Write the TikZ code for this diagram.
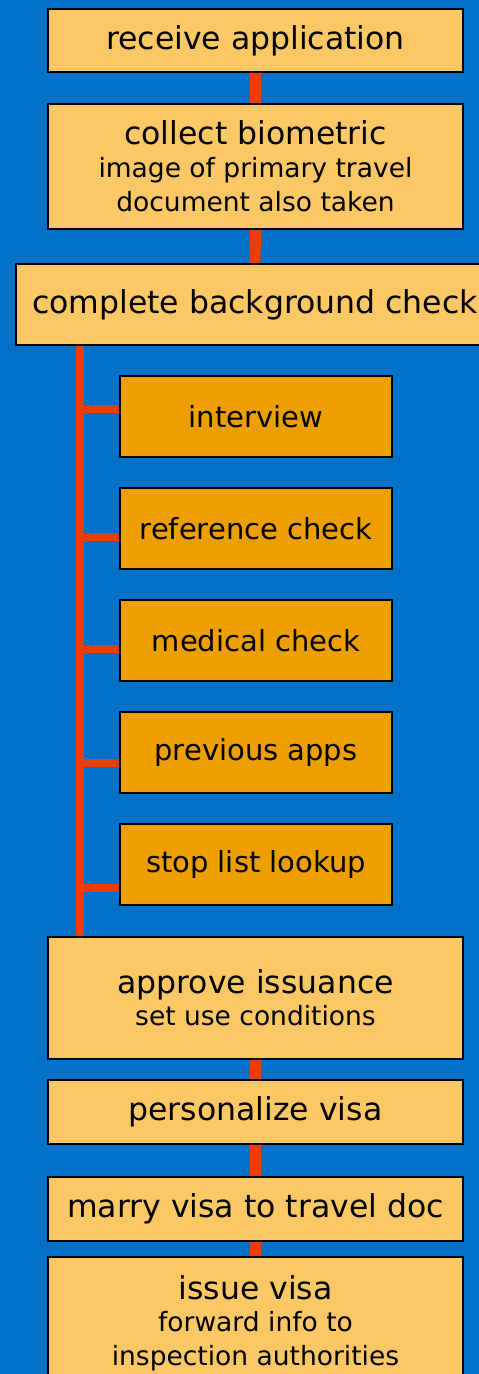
\documentclass[tikz,border=0pt]{standalone}
\usepackage{fontspec}
\setmainfont{DejaVu Sans}
\usetikzlibrary{calc}
\definecolor{bgblue}{HTML}{0070C8}
\definecolor{boxlight}{HTML}{FCC865}
\definecolor{boxdark}{HTML}{EE9F00}
\definecolor{linkred}{HTML}{EE3B00}
\pgfdeclarelayer{bglayer}
\pgfdeclarelayer{linklayer}
\pgfsetlayers{bglayer,linklayer,main}
\tikzset{
  stepbox/.style={draw=black, line width=1.5pt, fill=boxlight, rectangle, inner sep=0pt,
    minimum width=415pt, align=center, font=\fontsize{31.5}{34}\selectfont},
  subbox/.style={draw=black, line width=1.5pt, fill=boxdark, rectangle, inner sep=0pt,
    minimum width=272pt, minimum height=81pt, align=center, font=\fontsize{29}{32}\selectfont},
  link/.style={draw=linkred, line width=11pt},
  spine/.style={draw=linkred, line width=8pt},
}
\newcommand{\sublines}{\fontsize{26.5}{31}\selectfont}
\begin{document}
\begin{tikzpicture}[x=1pt,y=-1pt]
\clip (0,0) rectangle (479,1374);
\useasboundingbox (0,0) rectangle (479,1374);
\begin{pgfonlayer}{bglayer}
\fill[bgblue] (0,0) rectangle (479,1374);
\end{pgfonlayer}

\coordinate (sptop) at (80,345);

\node[stepbox, minimum height=63pt] (recv) at (255.5,40.5) {receive application};
\node[stepbox, minimum height=125pt] (collect) at (255.5,166.5)
  {collect biometric\\[-1pt]{\sublines image of primary travel}\\{\sublines document also taken}};
\node[stepbox, minimum width=478pt, minimum height=81pt] (complete) at (255,304.5)
  {complete background check};

\node[subbox] (interview) at (256,416.5) {interview};
\node[subbox] (refcheck) at (256,528.5) {reference check};
\node[subbox] (medical) at (256,640.5) {medical check};
\node[subbox] (previous) at (256,752.5) {previous apps};
\node[subbox] (stoplist) at (256,864.5) {stop list lookup};

\node[stepbox, minimum height=122pt] (approve) at (255.5,998)
  {approve issuance\\[-2pt]{\sublines set use conditions}};
\node[stepbox, minimum height=64pt] (personalize) at (255.5,1112) {personalize visa};
\node[stepbox, minimum height=64pt] (marry) at (255.5,1209) {marry visa to travel doc};
\node[stepbox, minimum height=132pt] (issue) at (255.5,1323)
  {issue visa\\[-2pt]{\sublines forward info to}\\{\sublines inspection authorities}};

\begin{pgfonlayer}{linklayer}
\draw[link] (recv.south) -- (collect.north);
\draw[link] (collect.south) -- (complete.north);
\draw[spine] (complete.south -| sptop) -- (approve.north -| sptop);
\draw[spine] ([yshift=8pt]interview.west) -- ([yshift=8pt]interview.west -| sptop);
\draw[spine] ([yshift=-8.5pt]refcheck.west) -- ([yshift=-8.5pt]refcheck.west -| sptop);
\draw[spine] ([yshift=-8.5pt]medical.west) -- ([yshift=-8.5pt]medical.west -| sptop);
\draw[spine] ([yshift=-10pt]previous.west) -- ([yshift=-10pt]previous.west -| sptop);
\draw[spine] ([yshift=-23pt]stoplist.west) -- ([yshift=-23pt]stoplist.west -| sptop);
\draw[link] (approve.south) -- (personalize.north);
\draw[link] (personalize.south) -- (marry.north);
\draw[link] (marry.south) -- (issue.north);
\end{pgfonlayer}
\end{tikzpicture}
\end{document}
